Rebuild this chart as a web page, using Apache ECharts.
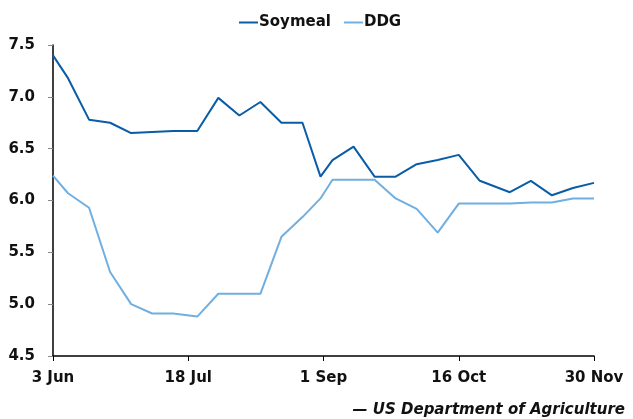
<!DOCTYPE html>
<html>
<head>
<meta charset="utf-8">
<script src="https://cdn.jsdelivr.net/npm/echarts@6/dist/echarts.min.js"></script>
<style>
  html, body { margin: 0; padding: 0; background: #fff; }
  #chart { width: 633px; height: 419px; }
</style>
</head>
<body>
<div id="chart"></div>
<script>
// weekly price observations
const dates = [
  '2019-06-03', '2019-06-08', '2019-06-15', '2019-06-22', '2019-06-29',
  '2019-07-06', '2019-07-13', '2019-07-21', '2019-07-28', '2019-08-04',
  '2019-08-11', '2019-08-18', '2019-08-25', '2019-08-31', '2019-09-04',
  '2019-09-11', '2019-09-18', '2019-09-25', '2019-10-02', '2019-10-09',
  '2019-10-16', '2019-10-23', '2019-11-02', '2019-11-09', '2019-11-16',
  '2019-11-23', '2019-11-30'
];
const soymeal = [
  7.40, 7.18, 6.78, 6.75, 6.65, 6.66, 6.67, 6.67, 6.99, 6.82,
  6.95, 6.75, 6.75, 6.23, 6.39, 6.52, 6.23, 6.23, 6.35, 6.39,
  6.44, 6.19, 6.08, 6.19, 6.05, 6.12, 6.17
];
const ddg = [
  6.24, 6.07, 5.93, 5.31, 5.00, 4.91, 4.91, 4.88, 5.10, 5.10,
  5.10, 5.65, 5.84, 6.02, 6.20, 6.20, 6.20, 6.02, 5.92, 5.69,
  5.97, 5.97, 5.97, 5.98, 5.98, 6.02, 6.02
];
const tickLabels = ['3 Jun', '18 Jul', '1 Sep', '16 Oct', '30 Nov'];

// x positions as days since the first date
const start = new Date(dates[0]).getTime();
const days = dates.map(d => (new Date(d).getTime() - start) / 864e5);

const font = 'DejaVu Sans';
const textColor = '#111';

const chart = echarts.init(document.getElementById('chart'));
chart.setOption({
  animation: false,
  grid: { left: 53, right: 39, top: 45, bottom: 63 },
  legend: {
    left: 234,
    top: 10,
    icon: 'rect',
    itemWidth: 19,
    itemHeight: 2,
    itemGap: 13,
    textStyle: { fontFamily: font, fontWeight: 'bold', fontSize: 15, color: textColor, padding: [0, 0, 0, -4] },
    data: ['Soymeal', 'DDG']
  },
  xAxis: {
    type: 'value',
    min: 0,
    max: 180,
    interval: 45,
    splitLine: { show: false },
    axisLine: { lineStyle: { color: '#000', width: 1.5 } },
    axisTick: { length: 5, lineStyle: { color: '#000' } },
    axisLabel: {
      margin: 15,
      fontFamily: font,
      fontWeight: 'bold',
      fontSize: 15,
      color: textColor,
      formatter: v => tickLabels[Math.round(v / 45)]
    }
  },
  yAxis: {
    type: 'value',
    min: 4.5,
    max: 7.5,
    interval: 0.5,
    splitLine: { show: false },
    axisLine: { show: true, lineStyle: { color: '#000', width: 1.5 } },
    axisTick: { show: true, length: 5, lineStyle: { color: '#888' } },
    axisLabel: {
      margin: 18,
      fontFamily: font,
      fontWeight: 'bold',
      fontSize: 15,
      color: textColor,
      formatter: v => v.toFixed(1)
    }
  },
  series: [
    {
      name: 'Soymeal',
      type: 'line',
      showSymbol: false,
      color: '#0a5ca6',
      lineStyle: { width: 2 },
      data: days.map((d, i) => [d, soymeal[i]])
    },
    {
      name: 'DDG',
      type: 'line',
      showSymbol: false,
      color: '#70afe0',
      lineStyle: { width: 2 },
      data: days.map((d, i) => [d, ddg[i]])
    }
  ],
  graphic: [
    {
      type: 'text',
      right: 8,
      top: 403,
      style: {
        text: '\u2014 US Department of Agriculture',
        font: 'italic bold 15px "DejaVu Sans"',
        fill: textColor
      }
    }
  ]
});
</script>
</body>
</html>
